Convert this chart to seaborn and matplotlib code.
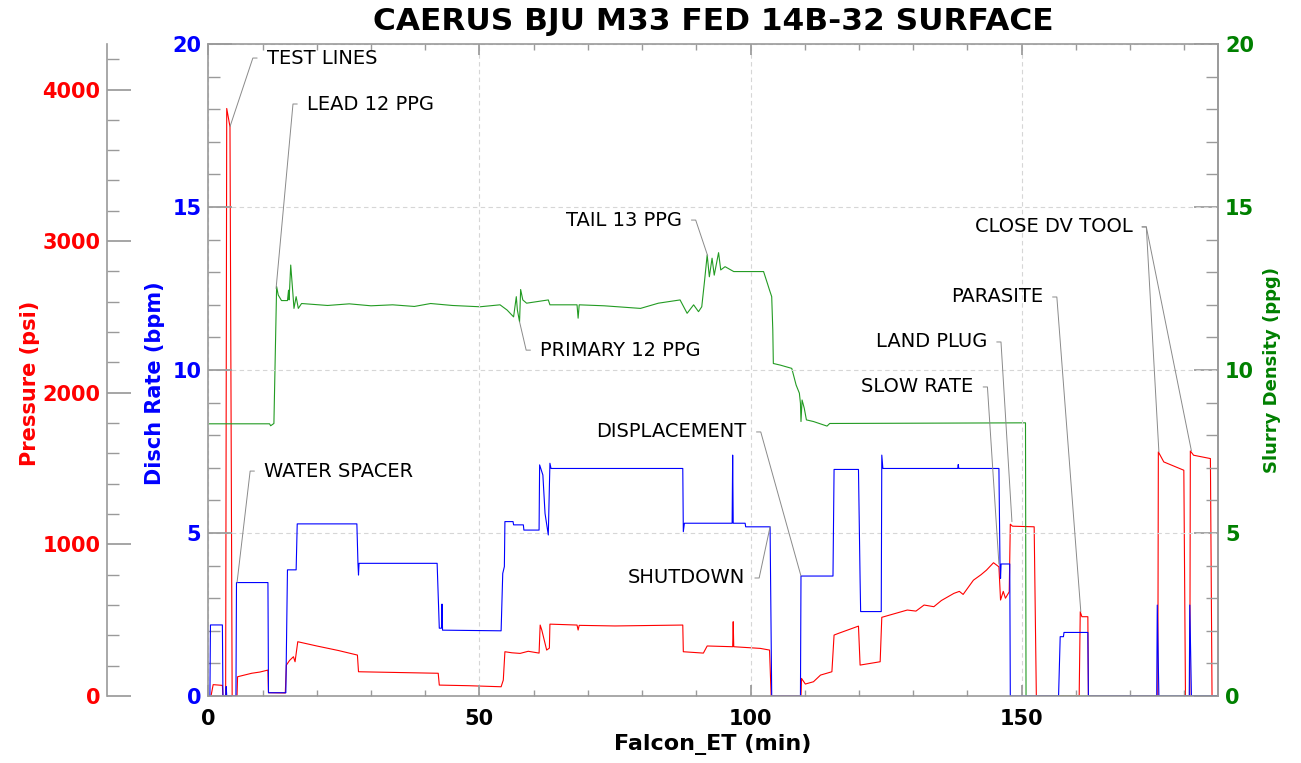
import pandas as pd
import matplotlib.pyplot as plt
import matplotlib.ticker as mticker
import seaborn as sns

# ---- data (time in minutes) ----
pressure_pts = [
    (0, 0), (0.5, 0), (0.9, 75), (2.6, 70), (2.7, 0), (3.2, 0), (3.4, 3875), (4.0, 3755),
    (4.4, 0), (5.3, 0), (5.4, 127), (8.0, 150), (9.5, 158), (11.0, 171), (11.1, 22),
    (14.2, 20), (14.4, 204), (15.0, 235), (15.7, 259), (16.0, 226), (16.5, 358),
    (20.0, 330), (24.0, 300), (27.5, 270), (27.7, 160), (35.0, 155), (42.4, 150),
    (42.6, 72), (48.0, 68), (54.0, 61), (54.4, 105), (54.7, 292), (56.0, 285),
    (57.5, 281), (59.0, 295), (61.0, 283), (61.2, 468), (61.5, 435), (62.4, 303),
    (62.9, 316), (63.0, 474), (68.0, 468), (68.2, 435), (68.4, 466), (75.0, 462),
    (87.5, 468), (87.6, 292), (91.3, 283), (92.0, 330), (96.7, 325), (96.8, 490),
    (96.9, 325), (101.8, 314), (103.5, 303), (103.8, 0), (109.3, 0), (109.4, 116),
    (110.1, 79), (111.6, 94), (112.9, 138), (115.0, 160), (115.4, 402), (116.2, 413),
    (119.9, 461), (120.2, 204), (123.9, 226), (124.2, 519), (128.9, 567), (130.5, 560),
    (132.0, 600), (133.8, 589), (135.2, 630), (137.5, 677), (138.5, 690), (139.2, 670),
    (141.1, 764), (142.5, 800), (143.5, 830), (144.8, 879), (145.8, 852), (146.1, 633),
    (146.6, 690), (147.0, 645), (147.7, 687), (147.9, 1133), (148.3, 1120),
    (152.3, 1116), (152.7, 0), (160.6, 0), (160.8, 556), (161.1, 523), (162.2, 523),
    (162.3, 0), (175.1, 0), (175.2, 1610), (176.2, 1544), (179.9, 1489), (180.2, 0),
    (181.0, 0), (181.1, 1616), (181.7, 1588), (184.8, 1566), (185.1, 0), (186.2, 0),
]

rate_pts = [
    (0, 0), (0.3, 0), (0.4, 2.18), (2.6, 2.18), (2.7, 0), (3.2, 0), (3.3, 0.29), (3.4, 0),
    (5.1, 0), (5.2, 3.48), (11.0, 3.48), (11.1, 0.1), (14.3, 0.1), (14.6, 3.87),
    (16.2, 3.87), (16.4, 5.28), (27.4, 5.28), (27.6, 4.07), (27.7, 3.71), (27.8, 4.07),
    (42.2, 4.07), (42.6, 2.08), (43.0, 2.08), (43.1, 2.82), (43.2, 2.02), (54.0, 2.0),
    (54.3, 3.76), (54.6, 3.97), (54.7, 5.35), (56.2, 5.35), (56.3, 5.25), (58.1, 5.25),
    (58.2, 5.09), (61.0, 5.09), (61.1, 7.09), (61.7, 6.78), (62.1, 5.6), (62.7, 4.94),
    (63.0, 7.14), (63.2, 6.98), (87.5, 6.98), (87.6, 5.04), (87.8, 5.3), (96.6, 5.3),
    (96.7, 7.39), (96.8, 5.3), (99.0, 5.3), (99.1, 5.19), (103.6, 5.19), (103.9, 0),
    (109.2, 0), (109.3, 3.68), (115.2, 3.68), (115.4, 6.95), (119.9, 6.95), (120.2, 3.56),
    (120.3, 2.59), (124.1, 2.59), (124.2, 7.39), (124.4, 6.98), (138.2, 6.98),
    (138.3, 7.1), (138.4, 6.98), (145.8, 6.98), (146.0, 4.02), (146.1, 3.61),
    (146.2, 4.05), (147.8, 4.05), (147.9, 0), (156.8, 0), (157.1, 1.82), (157.7, 1.82),
    (157.8, 1.95), (162.2, 1.95), (162.3, 0), (174.9, 0), (175.0, 2.79), (175.3, 0),
    (180.9, 0), (181.0, 2.79), (181.3, 0), (186.2, 0),
]

density_pts = [
    (0, 8.35), (11.3, 8.35), (11.5, 8.29), (12.1, 8.36), (12.6, 12.56), (12.9, 12.3),
    (13.5, 12.13), (14.6, 12.13), (14.8, 12.45), (14.9, 12.15), (15.2, 13.22),
    (15.6, 12.35), (15.8, 11.89), (16.2, 12.25), (16.6, 11.89), (17.2, 12.04),
    (22.0, 11.98), (26.0, 12.03), (30.0, 11.97), (34.0, 12.0), (38.0, 11.95),
    (41.0, 12.04), (45.0, 11.98), (50.1, 11.94), (53.8, 12.0), (55.1, 11.84),
    (56.3, 11.63), (56.8, 12.25), (57.0, 11.84), (57.4, 11.48), (57.6, 12.47),
    (58.0, 12.15), (58.7, 12.05), (62.7, 12.15), (63.0, 12.0), (68.0, 12.0),
    (68.2, 11.59), (68.4, 12.0), (73.0, 11.97), (79.7, 11.89), (83.0, 12.05),
    (87.0, 12.15), (88.3, 11.74), (89.5, 12.0), (90.4, 11.79), (91.0, 11.94),
    (91.5, 12.71), (92.0, 13.53), (92.4, 12.86), (92.9, 13.43), (93.3, 12.91),
    (94.1, 13.6), (94.5, 13.07), (95.3, 13.17), (96.9, 13.02), (102.4, 13.02),
    (103.1, 12.66), (103.5, 12.45), (103.9, 12.25), (104.1, 11.23), (104.2, 10.2),
    (105.5, 10.15), (107.6, 10.05), (108.4, 9.54), (109.0, 9.29), (109.2, 8.98),
    (109.3, 8.42), (109.5, 9.08), (109.9, 8.83), (110.3, 8.47), (111.6, 8.42),
    (114.1, 8.28), (114.6, 8.36), (150.7, 8.38), (150.8, 0), (186.2, 0),
]

# annotations: label, text x, text y (0-20 scale), side, series, target t, target value
ann_labels = ["TEST LINES", "LEAD 12 PPG", "WATER SPACER", "PRIMARY 12 PPG", "TAIL 13 PPG",
              "DISPLACEMENT", "SHUTDOWN", "SLOW RATE", "LAND PLUG", "PARASITE",
              "CLOSE DV TOOL", "CLOSE DV TOOL"]
ann_text_x = [10.8, 18.2, 10.3, 61.2, 87.3, 99.3, 99.0, 141.1, 143.6, 153.9, 170.4, 170.4]
ann_text_y = [19.57, 18.16, 6.9, 10.61, 14.6, 8.1, 3.62, 9.48, 10.86, 12.24, 14.39, 14.39]
ann_side = ["left", "left", "left", "left", "right", "right", "right", "right", "right",
            "right", "right", "right"]
ann_series = ["p", "d", "r", "d", "d", "r", "r", "r", "p", "p", "p", "p"]
ann_t = [4.0, 12.5, 5.3, 57.4, 92.1, 109.3, 103.6, 145.8, 148.2, 160.9, 175.3, 181.3]
ann_v = [3755, 12.5, 3.48, 11.48, 13.5, 3.68, 5.19, 4.05, 1150, 556, 1610, 1616]

pressure = pd.DataFrame(pressure_pts, columns=["t", "psi"])
rate = pd.DataFrame(rate_pts, columns=["t", "bpm"])
density = pd.DataFrame(density_pts, columns=["t", "ppg"])

sns.set_theme(style="white")
plt.rcParams['font.family'] = ['DejaVu Sans']
plt.rcParams['font.weight'] = 'bold'
plt.rcParams['text.color'] = 'black'
plt.rcParams['axes.labelcolor'] = 'black'

RED, BLUE, GREEN = '#ff0000', '#0000ff', '#008000'
SPINE = '#9a9a9a'

fig = plt.figure(figsize=(13.01, 7.63), dpi=100)
fig.patch.set_facecolor('white')
ax = fig.add_axes([0.1601, 0.0878, 0.7761, 0.8545])
ax_p = ax.twinx()
ax_d = ax.twinx()
ax_p.set_zorder(1)
ax_d.set_zorder(2)
ax.set_zorder(3)
ax.patch.set_visible(False)

sns.lineplot(data=pressure, x="t", y="psi", ax=ax_p, color=RED, lw=0.8,
             estimator=None, sort=False)
sns.lineplot(data=density, x="t", y="ppg", ax=ax_d, color='#239b23', lw=0.8,
             estimator=None, sort=False)
sns.lineplot(data=rate, x="t", y="bpm", ax=ax, color=BLUE, lw=0.8,
             estimator=None, sort=False)

ax.set_xlim(0, 186.2)
ax.set_ylim(0, 20)
ax_d.set_ylim(0, 20)
ax_p.set_ylim(0, 4300)

# x axis
ax.xaxis.set_major_locator(mticker.MultipleLocator(50))
ax.xaxis.set_minor_locator(mticker.MultipleLocator(10))
ax.tick_params(axis='x', which='both', direction='in', top=True, bottom=True,
               color=SPINE, labelsize=15, pad=9, labelcolor='black')
ax.tick_params(axis='x', which='major', length=8)
ax.tick_params(axis='x', which='minor', length=4.5)
ax.set_xlabel('Falcon_ET (min)', fontsize=16, fontweight='bold', labelpad=4, color='black')

# rate axis (left, inner)
ax.yaxis.set_major_locator(mticker.MultipleLocator(5))
ax.yaxis.set_minor_locator(mticker.MultipleLocator(1))
ax.tick_params(axis='y', which='both', direction='in', left=True, right=False,
               color=SPINE, labelcolor=BLUE, labelsize=15, pad=5)
ax.tick_params(axis='y', which='major', length=17)
ax.tick_params(axis='y', which='minor', length=8.6)
ax.set_ylabel('Disch Rate (bpm)', color=BLUE, fontsize=15, fontweight='bold')
ax.yaxis.set_label_coords(-0.0429, 0.48)
ax.grid(True, which='major', ls=(0, (4, 3)), color='#d6d6d6', lw=0.8)

# density axis (right)
ax_d.yaxis.set_major_locator(mticker.MultipleLocator(5))
ax_d.yaxis.set_minor_locator(mticker.MultipleLocator(1))
ax_d.tick_params(axis='y', which='both', direction='in', color=SPINE,
                 labelcolor=GREEN, labelsize=15, pad=5)
ax_d.tick_params(axis='y', which='major', length=17)
ax_d.tick_params(axis='y', which='minor', length=8.6)
ax_d.set_ylabel('Slurry Density (ppg)', color=GREEN, fontsize=13, fontweight='bold')
ax_d.yaxis.set_label_coords(1.0446, 0.5)
ax_d.grid(False)

# pressure axis (far left)
ax_p.yaxis.tick_left()
ax_p.yaxis.set_label_position('left')
ax_p.spines['left'].set_position(('outward', 72.7))
ax_p.yaxis.set_major_locator(mticker.MultipleLocator(1000))
ax_p.yaxis.set_minor_locator(mticker.MultipleLocator(200))
ax_p.tick_params(axis='y', which='both', direction='in', color=SPINE,
                 labelcolor=RED, labelsize=15, pad=5)
ax_p.tick_params(axis='y', which='major', length=17)
ax_p.tick_params(axis='y', which='minor', length=8.6)
ax_p.set_ylabel('Pressure (psi)', color=RED, fontsize=15, fontweight='bold')
ax_p.yaxis.set_label_coords(-0.1667, 0.48)
ax_p.grid(False)

for a in (ax, ax_d, ax_p):
    for s in a.spines.values():
        s.set_color(SPINE)
        s.set_linewidth(1.2)
for s in ('right', 'top', 'bottom'):
    ax_p.spines[s].set_visible(False)
for s in ('left', 'top', 'bottom'):
    ax_d.spines[s].set_visible(False)

ax.set_title('CAERUS BJU M33 FED 14B-32 SURFACE', fontsize=22.5, fontweight='bold',
             pad=10, color='black')

# annotations with leader lines
series_axes = {"p": ax_p, "r": ax, "d": ax_d}
for i, label in enumerate(ann_labels):
    left = ann_side[i] == "left"
    hidden = i > 0 and label == ann_labels[i - 1]
    ax.annotate(
        label,
        xy=(ann_t[i], ann_v[i]), xycoords=series_axes[ann_series[i]].transData,
        xytext=(ann_text_x[i], ann_text_y[i]), textcoords=ax.transData,
        ha='left' if left else 'right', va='center', fontsize=14, fontweight='normal',
        color='none' if hidden else 'black',
        arrowprops=dict(arrowstyle='-', color='#8a8a8a', lw=0.7, shrinkA=7, shrinkB=0,
                        patchA=None, relpos=(0, 0.5) if left else (1, 0.5),
                        connectionstyle='arc,angleA=%d,armA=14,angleB=0,armB=0,rad=0'
                        % (180 if left else 0)),
    )

fig.savefig('out.png', dpi=100, facecolor='white')
